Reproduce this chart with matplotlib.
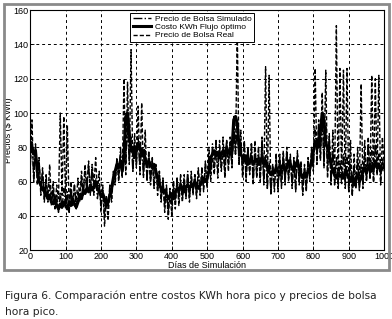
import numpy as np
import matplotlib
matplotlib.use("Agg")
import matplotlib.pyplot as plt
from matplotlib.patches import Rectangle

plt.rcParams['font.family'] = ['Liberation Sans Narrow', 'Liberation Sans', 'DejaVu Sans']

# days 0, 5, ..., 1000
dias = np.arange(0, 1001, 5)

costo_optimo = [
    78, 80, 76, 78, 66, 60, 58, 55, 56, 52, 50, 52, 48, 47, 50, 46, 44, 47, 45, 48,
    46, 44, 48, 46, 50, 47, 45, 48, 52, 50, 55, 53, 56, 54, 58, 55, 57, 60, 56, 54,
    52, 53, 50, 46, 48, 52, 56, 62, 66, 70, 68, 72, 66, 74, 98, 100, 88, 78, 80, 74,
    78, 82, 80, 76, 78, 72, 70, 72, 70, 68, 70, 66, 62, 58, 56, 54, 55, 52, 50, 52,
    53, 50, 54, 56, 55, 58, 56, 54, 57, 58, 56, 58, 57, 60, 58, 56, 58, 60, 62, 60,
    62, 66, 74, 76, 78, 75, 77, 74, 76, 78, 75, 80, 77, 76, 78, 96, 98, 94, 80, 76,
    74, 72, 75, 70, 72, 74, 70, 72, 73, 70, 72, 74, 70, 72, 68, 66, 64, 66, 65, 68,
    66, 64, 68, 70, 66, 68, 72, 70, 68, 66, 70, 72, 68, 64, 62, 65, 63, 66, 68, 72,
    78, 82, 84, 80, 90, 100, 96, 82, 80, 76, 70, 66, 64, 62, 65, 63, 64, 62, 66, 64,
    62, 60, 63, 58, 62, 64, 60, 62, 66, 68, 65, 68, 70, 66, 68, 72, 68, 70, 66, 68,
    68]

precio_simulado = [
    70, 84, 62, 80, 66, 72, 56, 66, 50, 64, 48, 58, 46, 56, 44, 52, 42, 54, 44, 56,
    44, 54, 42, 56, 46, 58, 44, 54, 48, 62, 52, 66, 54, 70, 56, 68, 52, 62, 50, 58,
    46, 56, 40, 52, 44, 58, 50, 66, 60, 74, 62, 80, 64, 84, 70, 92, 72, 86, 66, 82,
    70, 86, 66, 80, 64, 78, 62, 76, 60, 74, 58, 70, 56, 66, 50, 62, 46, 58, 42, 56,
    46, 60, 48, 62, 50, 64, 50, 60, 52, 66, 50, 62, 54, 64, 52, 66, 54, 68, 56, 70,
    58, 74, 64, 82, 68, 84, 66, 80, 68, 86, 64, 84, 70, 82, 68, 90, 76, 94, 70, 84,
    64, 82, 62, 80, 66, 82, 60, 78, 64, 80, 62, 84, 60, 76, 56, 72, 54, 70, 58, 76,
    56, 74, 58, 76, 60, 78, 62, 74, 58, 72, 56, 76, 60, 70, 54, 68, 56, 72, 62, 78,
    68, 90, 72, 94, 74, 96, 70, 92, 66, 86, 60, 78, 58, 74, 56, 72, 58, 76, 56, 74,
    54, 70, 52, 68, 56, 72, 54, 70, 58, 76, 60, 80, 62, 78, 60, 82, 64, 76, 60, 74,
    66]

precio_real = [
    66, 96, 60, 82, 58, 74, 52, 68, 48, 62, 50, 70, 48, 60, 46, 58, 50, 100, 52, 98,
    48, 93, 44, 60, 46, 58, 48, 62, 50, 66, 54, 70, 56, 72, 52, 70, 58, 74, 54, 66,
    42, 58, 34, 50, 38, 56, 48, 64, 58, 72, 60, 76, 62, 120, 64, 118, 70, 137, 66, 88,
    68, 104, 64, 106, 62, 90, 60, 78, 58, 72, 56, 70, 52, 66, 48, 62, 42, 56, 38, 54,
    40, 58, 44, 62, 46, 60, 48, 64, 50, 62, 48, 66, 52, 64, 50, 68, 52, 66, 54, 72,
    56, 80, 60, 76, 64, 82, 62, 84, 66, 80, 62, 84, 66, 86, 70, 98, 76, 148, 72, 90,
    62, 84, 60, 80, 64, 82, 58, 84, 62, 78, 60, 86, 58, 127, 56, 122, 52, 70, 54, 74,
    54, 76, 56, 78, 58, 80, 60, 76, 56, 74, 54, 78, 58, 72, 52, 70, 54, 74, 60, 80,
    66, 126, 70, 96, 72, 112, 68, 125, 62, 88, 58, 90, 60, 151, 58, 126, 62, 125, 58, 126,
    56, 84, 52, 76, 56, 80, 58, 117, 56, 84, 60, 86, 62, 122, 60, 120, 64, 122, 58, 86,
    70]

fig = plt.figure(figsize=(3.92, 3.19), dpi=100)
ax = fig.add_axes([0.077, 0.216, 0.903, 0.752])

ax.plot(dias, precio_simulado, '-.', color='k', lw=1.0, label='Precio de Bolsa Simulado')
ax.plot(dias, costo_optimo, '-', color='k', lw=2.2, label='Costo KWh Flujo óptimo')
ax.plot(dias, precio_real, '--', color='k', lw=1.0, dashes=(3, 1.5), label='Precio de Bolsa Real')

ax.set_xlim(0, 1000)
ax.set_ylim(20, 160)
ax.set_xticks(np.arange(0, 1001, 100))
ax.set_yticks(np.arange(20, 161, 20))
ax.tick_params(direction='in', length=3, labelsize=6.5, pad=1.5, width=0.6)
ax.grid(True, color='k', linestyle=(0, (3, 3)), linewidth=0.7)
for s in ax.spines.values():
    s.set_linewidth(0.8)

ax.set_xlabel('Días de Simulación', fontsize=6.5, labelpad=0)
ax.set_ylabel('Precios ($ KWh)', fontsize=6.5)
ax.yaxis.set_label_coords(-0.048, 0.5)

leg = ax.legend(loc='upper left', bbox_to_anchor=(0.283, 0.99), fontsize=6,
                frameon=True, fancybox=False, edgecolor='k', framealpha=1,
                borderpad=0.3, labelspacing=0.05, handlelength=2.2, handletextpad=0.4,
                borderaxespad=0)
leg.get_frame().set_linewidth(0.7)

# gray frame around the figure panel
fig.patches.append(Rectangle((4 / 392, 1 - 270 / 319), 385 / 392, 266 / 319,
                             transform=fig.transFigure, fill=False,
                             edgecolor='#8a8a8a', linewidth=2))

fig.text(0.012, 1 - 296 / 319, 'Figura 6. Comparación entre costos KWh hora pico y precios de bolsa',
         family='DejaVu Sans', fontsize=7.7, color='#222222', va='center', ha='left')
fig.text(0.012, 1 - 312 / 319, 'hora pico.',
         family='DejaVu Sans', fontsize=7.7, color='#222222', va='center', ha='left')

fig.savefig('out.png', dpi=100)
